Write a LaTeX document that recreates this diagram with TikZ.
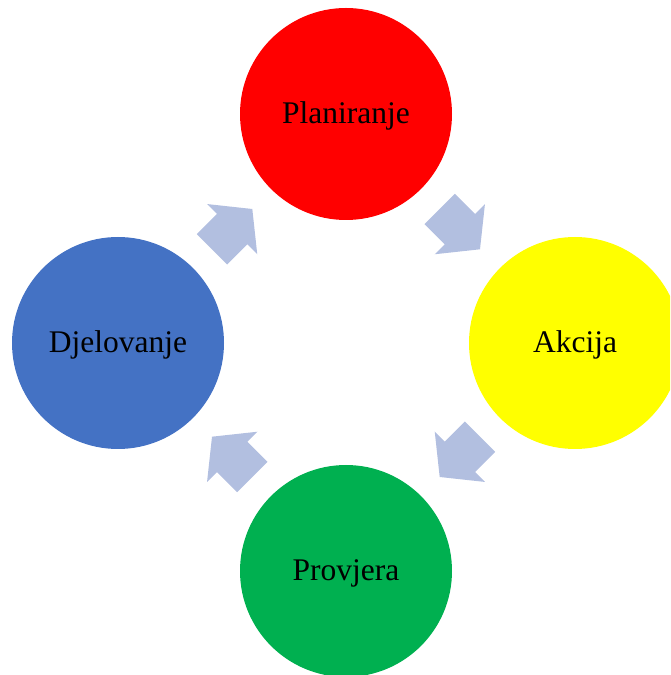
\documentclass[tikz,border=0pt]{standalone}
\usepackage{fontspec}
\setmainfont{Liberation Serif}
\usetikzlibrary{calc}
\definecolor{cred}{RGB}{255,0,0}
\definecolor{cyellow}{RGB}{255,255,0}
\definecolor{cblue}{RGB}{68,114,196}
\definecolor{cgreen}{RGB}{0,176,80}
\definecolor{carrow}{RGB}{178,191,224}
\begin{document}
\begin{tikzpicture}[x=1pt,y=1pt,
  stage/.style={circle,minimum size=212pt,inner sep=0pt,draw=none,
    text height=25pt,text depth=5pt,
    font=\fontsize{31.5}{38}\selectfont,text=black},
  cyclearrow/.style={fill=carrow,draw=none}]
\useasboundingbox (0,0) rectangle (670,675);
\clip (0,0) rectangle (670,675);
\coordinate (ctr) at (346,332);
\node[stage,fill=cred]    (plan) at (346,561) {Planiranje};
\node[stage,fill=cyellow] (akc)  at (575,332) {Akcija};
\node[stage,fill=cgreen]  (prov) at (346,104) {Provjera};
\node[stage,fill=cblue]   (djel) at (118,332) {Djelovanje};
\foreach \pos/\dir in {135/45, 45/-45, -45/-135, -135/135}{
  \begin{scope}[shift={($(ctr)+(\pos:161)$)},rotate=\dir]
    \fill[cyclearrow] (-28.5,-21.5) -- (0,-21.5) -- (0,-35.5) -- (28.5,0)
      -- (0,35.5) -- (0,21.5) -- (-28.5,21.5) -- cycle;
  \end{scope}
}
\end{tikzpicture}
\end{document}
